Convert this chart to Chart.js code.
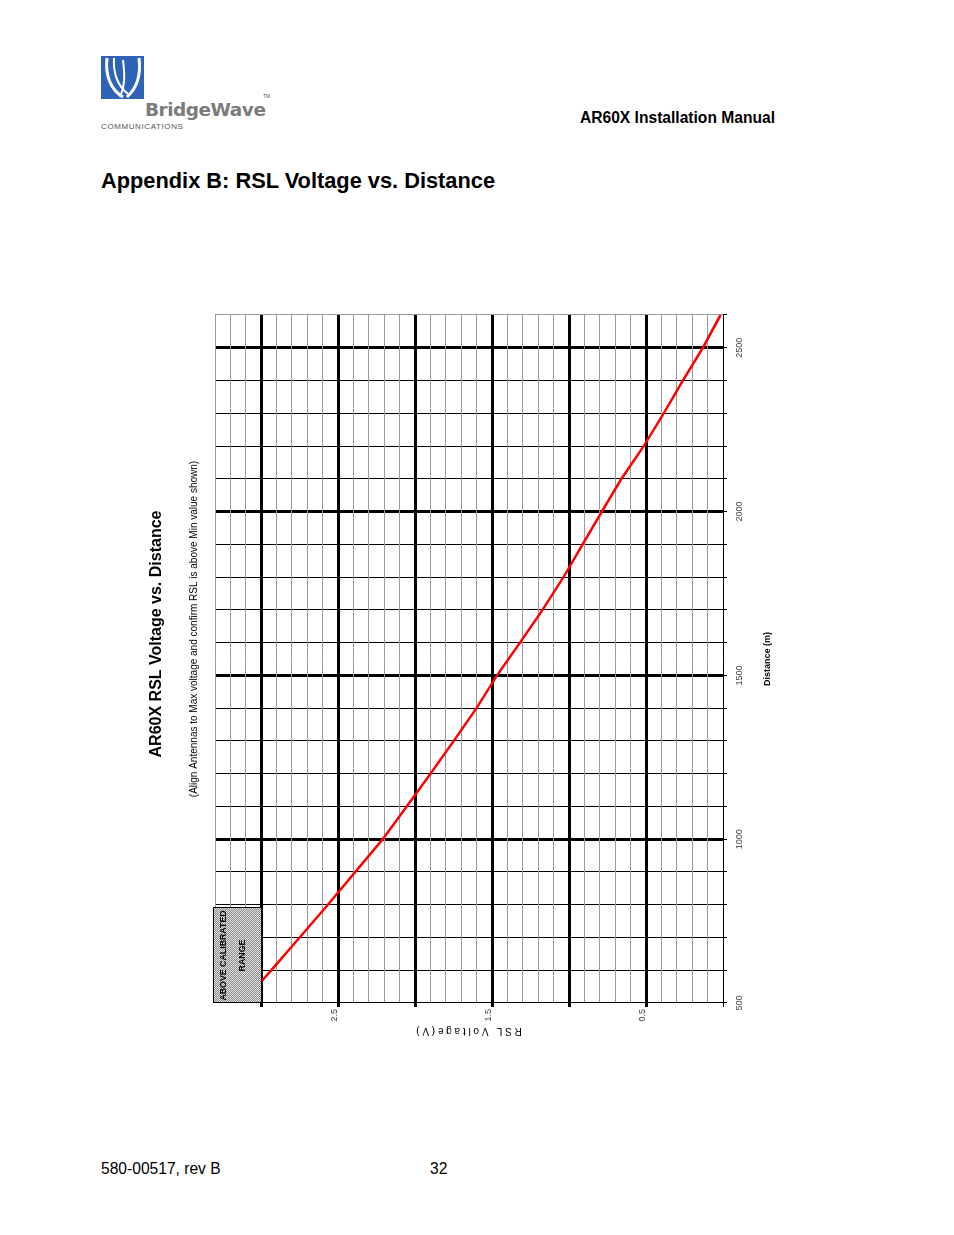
<!DOCTYPE html>
<html>
<head>
<meta charset="utf-8">
<script src="https://cdn.jsdelivr.net/npm/chart.js@4.4.1/dist/chart.umd.min.js"></script>
<style>
  body { margin: 0; width: 954px; height: 1235px; background: #fff; position: relative; font-family: 'Liberation Sans', Arial, sans-serif; overflow: hidden; }
  .txt { position: absolute; white-space: nowrap; color: #000; line-height: 1; }
  #cabecalho { left: 580px; top: 110px; font-size: 15.6px; font-weight: bold; }
  #tituloPagina { left: 101px; top: 170px; font-size: 21.8px; font-weight: bold; }
  #rodape { left: 101px; top: 1161px; font-size: 15.6px; }
  #pagina { left: 430px; top: 1161px; font-size: 15.6px; }
  #marca { left: 145px; top: 101px; font-size: 18.5px; font-weight: bold; color: #7b7b7b; font-family: 'DejaVu Sans', sans-serif; letter-spacing: -0.5px; }
  #tm { left: 263px; top: 94px; font-size: 5px; color: #555; }
  #comunicacoes { left: 101px; top: 123px; font-size: 8px; color: #555; letter-spacing: 0.6px; }
  #logo { position: absolute; left: 101px; top: 56px; }
  #moldura { position: absolute; left: 60px; top: 330px; width: 800px; height: 680px; transform: rotate(-90deg); }
</style>
</head>
<body>
<svg id="logo" width="43" height="43" viewBox="0 0 43 43">
  <rect width="43" height="43" fill="#2e63b8"/>
  <path d="M6 2 C 4 20, 10 34, 22 41" stroke="#fff" stroke-width="3" fill="none"/>
  <path d="M13 2 C 12 18, 17 30, 27 38" stroke="#fff" stroke-width="2" fill="none"/>
  <path d="M22 4 C 24 20, 24 30, 19 41" stroke="#fff" stroke-width="2" fill="none"/>
  <path d="M38 2 C 40 18, 36 32, 26 41" stroke="#fff" stroke-width="3" fill="none"/>
</svg>
<div class="txt" id="marca">BridgeWave</div>
<div class="txt" id="tm">TM</div>
<div class="txt" id="comunicacoes">COMMUNICATIONS</div>
<div class="txt" id="cabecalho">AR60X Installation Manual</div>
<div class="txt" id="tituloPagina">Appendix B: RSL Voltage vs. Distance</div>
<div id="moldura"><canvas id="grafico" width="800" height="680"></canvas></div>
<div class="txt" id="rodape">580-00517, rev B</div>
<div class="txt" id="pagina">32</div>

<script>
// curva: distancia (m) x tensao RSL (V)
const distancias = [565, 600, 700, 800, 900, 1000, 1100, 1200, 1300, 1400, 1500,
  1600, 1700, 1800, 1900, 2000, 2100, 2200, 2300, 2400, 2500, 2600];
const tensoes = [3.0, 2.935, 2.75, 2.567, 2.389, 2.21, 2.055, 1.90, 1.749, 1.601, 1.468,
  1.319, 1.173, 1.036, 0.912, 0.787, 0.66, 0.515, 0.385, 0.261, 0.131, 0.016];

const rotulosDistancia = [500, 1000, 1500, 2000, 2500];
const rotulosTensao = [2.5, 1.5, 0.5];

const faixaNaoCalibrada = { distanciaMax: 790, tensaoMin: 3.0 };

const tituloGrafico = 'AR60X RSL Voltage vs. Distance';
const subtituloGrafico = '(Align Antennas to Max voltage and confirm RSL is above Min value shown)';

const fonte = "'Liberation Sans', Arial, sans-serif";

function ehMultiplo(valor, passo) {
  const r = valor / passo;
  return Math.abs(r - Math.round(r)) < 1e-6;
}

// padrao hachurado da caixa
const padraoCanvas = document.createElement('canvas');
padraoCanvas.width = 2;
padraoCanvas.height = 2;
const pctx = padraoCanvas.getContext('2d');
pctx.fillStyle = '#e2e2e2';
pctx.fillRect(0, 0, 2, 2);
pctx.fillStyle = '#8c8c8c';
pctx.fillRect(0, 0, 1, 1);
pctx.fillRect(1, 1, 1, 1);

const pluginTextos = {
  id: 'textosExtras',
  afterDatasetsDraw(chart) {
    const { ctx, chartArea, scales } = chart;
    // caixa "above calibrated range"
    const x0 = scales.x.getPixelForValue(500);
    const x1 = scales.x.getPixelForValue(faixaNaoCalibrada.distanciaMax);
    const y1 = scales.y.getPixelForValue(faixaNaoCalibrada.tensaoMin);
    const y0 = chartArea.top - 2;
    ctx.save();
    ctx.fillStyle = ctx.createPattern(padraoCanvas, 'repeat');
    ctx.fillRect(x0, y0, x1 - x0, y1 - y0);
    ctx.strokeStyle = '#000';
    ctx.lineWidth = 1;
    ctx.strokeRect(x0 + 0.5, y0 + 0.5, x1 - x0, y1 - y0);
    ctx.fillStyle = '#000';
    ctx.font = 'bold 8.8px ' + fonte;
    ctx.textAlign = 'center';
    ctx.textBaseline = 'middle';
    const cx = (x0 + x1) / 2;
    ctx.fillText('ABOVE CALIBRATED', cx, y0 + 11);
    ctx.fillText('RANGE', cx, y0 + 30);
    ctx.restore();
  },
  afterDraw(chart) {
    const { ctx, chartArea } = chart;
    const centro = (chartArea.left + chartArea.right) / 2;
    ctx.save();
    ctx.fillStyle = '#000';
    ctx.textAlign = 'center';
    ctx.textBaseline = 'middle';
    ctx.font = 'bold 16px ' + fonte;
    ctx.fillText(tituloGrafico, centro + 25, 37);
    ctx.font = '10px ' + fonte;
    ctx.fillText(subtituloGrafico, centro + 30, 74);
    ctx.restore();
  }
};

const grafico = new Chart(document.getElementById('grafico').getContext('2d'), {
  type: 'line',
  data: {
    datasets: [{
      label: 'RSL',
      data: distancias.map((d, i) => ({ x: d, y: tensoes[i] })),
      borderColor: '#ff0000',
      borderWidth: 2.5,
      pointRadius: 0,
      tension: 0,
      fill: false
    }]
  },
  options: {
    responsive: false,
    animation: false,
    layout: { padding: { top: 95, right: 45, left: 0, bottom: 0 } },
    plugins: {
      legend: { display: false },
      tooltip: { enabled: false }
    },
    scales: {
      x: {
        type: 'linear',
        min: 500,
        max: 2600,
        afterFit(escala) { escala.height = 77; },
        ticks: {
          stepSize: 100,
          autoSkip: false,
          maxRotation: 0,
          padding: 7,
          color: '#444',
          font: { family: fonte, size: 9 },
          callback: (v) => rotulosDistancia.includes(v) ? String(v) : ''
        },
        grid: {
          color: (c) => c.tick && c.tick.value === 2600 ? '#999' : '#000',
          lineWidth: (c) => {
            const v = c.tick ? c.tick.value : 0;
            return (v !== 500 && ehMultiplo(v, 500)) ? 3 : 1;
          },
          tickLength: 4,
          tickColor: '#000',
          tickWidth: 1
        },
        border: { color: '#000', width: 1 },
        title: {
          display: true,
          text: 'Distance (m)',
          color: '#000',
          font: { family: fonte, size: 9, weight: 'bold' },
          padding: { top: 0, bottom: 27 }
        }
      },
      y: {
        type: 'linear',
        min: 0,
        max: 3.3,
        afterFit(escala) { escala.width = 67; },
        ticks: {
          stepSize: 0.1,
          autoSkip: false,
          padding: 2,
          color: '#444',
          labelOffset: -4,
          font: { family: fonte, size: 9 },
          callback: (v) => rotulosTensao.some(t => Math.abs(t - v) < 1e-6) ? v.toFixed(1) : ''
        },
        grid: {
          color: (c) => {
            const v = c.tick ? c.tick.value : 0;
            return (ehMultiplo(v, 0.5)) ? '#000' : '#9a9a9a';
          },
          lineWidth: (c) => {
            const v = c.tick ? c.tick.value : 0;
            return (v > 0.01 && ehMultiplo(v, 0.5)) ? 3 : 1;
          },
          tickLength: 4,
          tickColor: (c) => {
            const v = c.tick ? c.tick.value : 0;
            return ehMultiplo(v, 0.5) ? '#000' : 'rgba(0,0,0,0)';
          }
        },
        border: { color: '#000', width: 1 },
        title: {
          display: true,
          text: 'R S L   V o l t a g e ( V )',
          color: '#000',
          font: { family: fonte, size: 10 },
          padding: { top: 33, bottom: 0 }
        }
      }
    }
  },
  plugins: [pluginTextos]
});
</script>
</body>
</html>
